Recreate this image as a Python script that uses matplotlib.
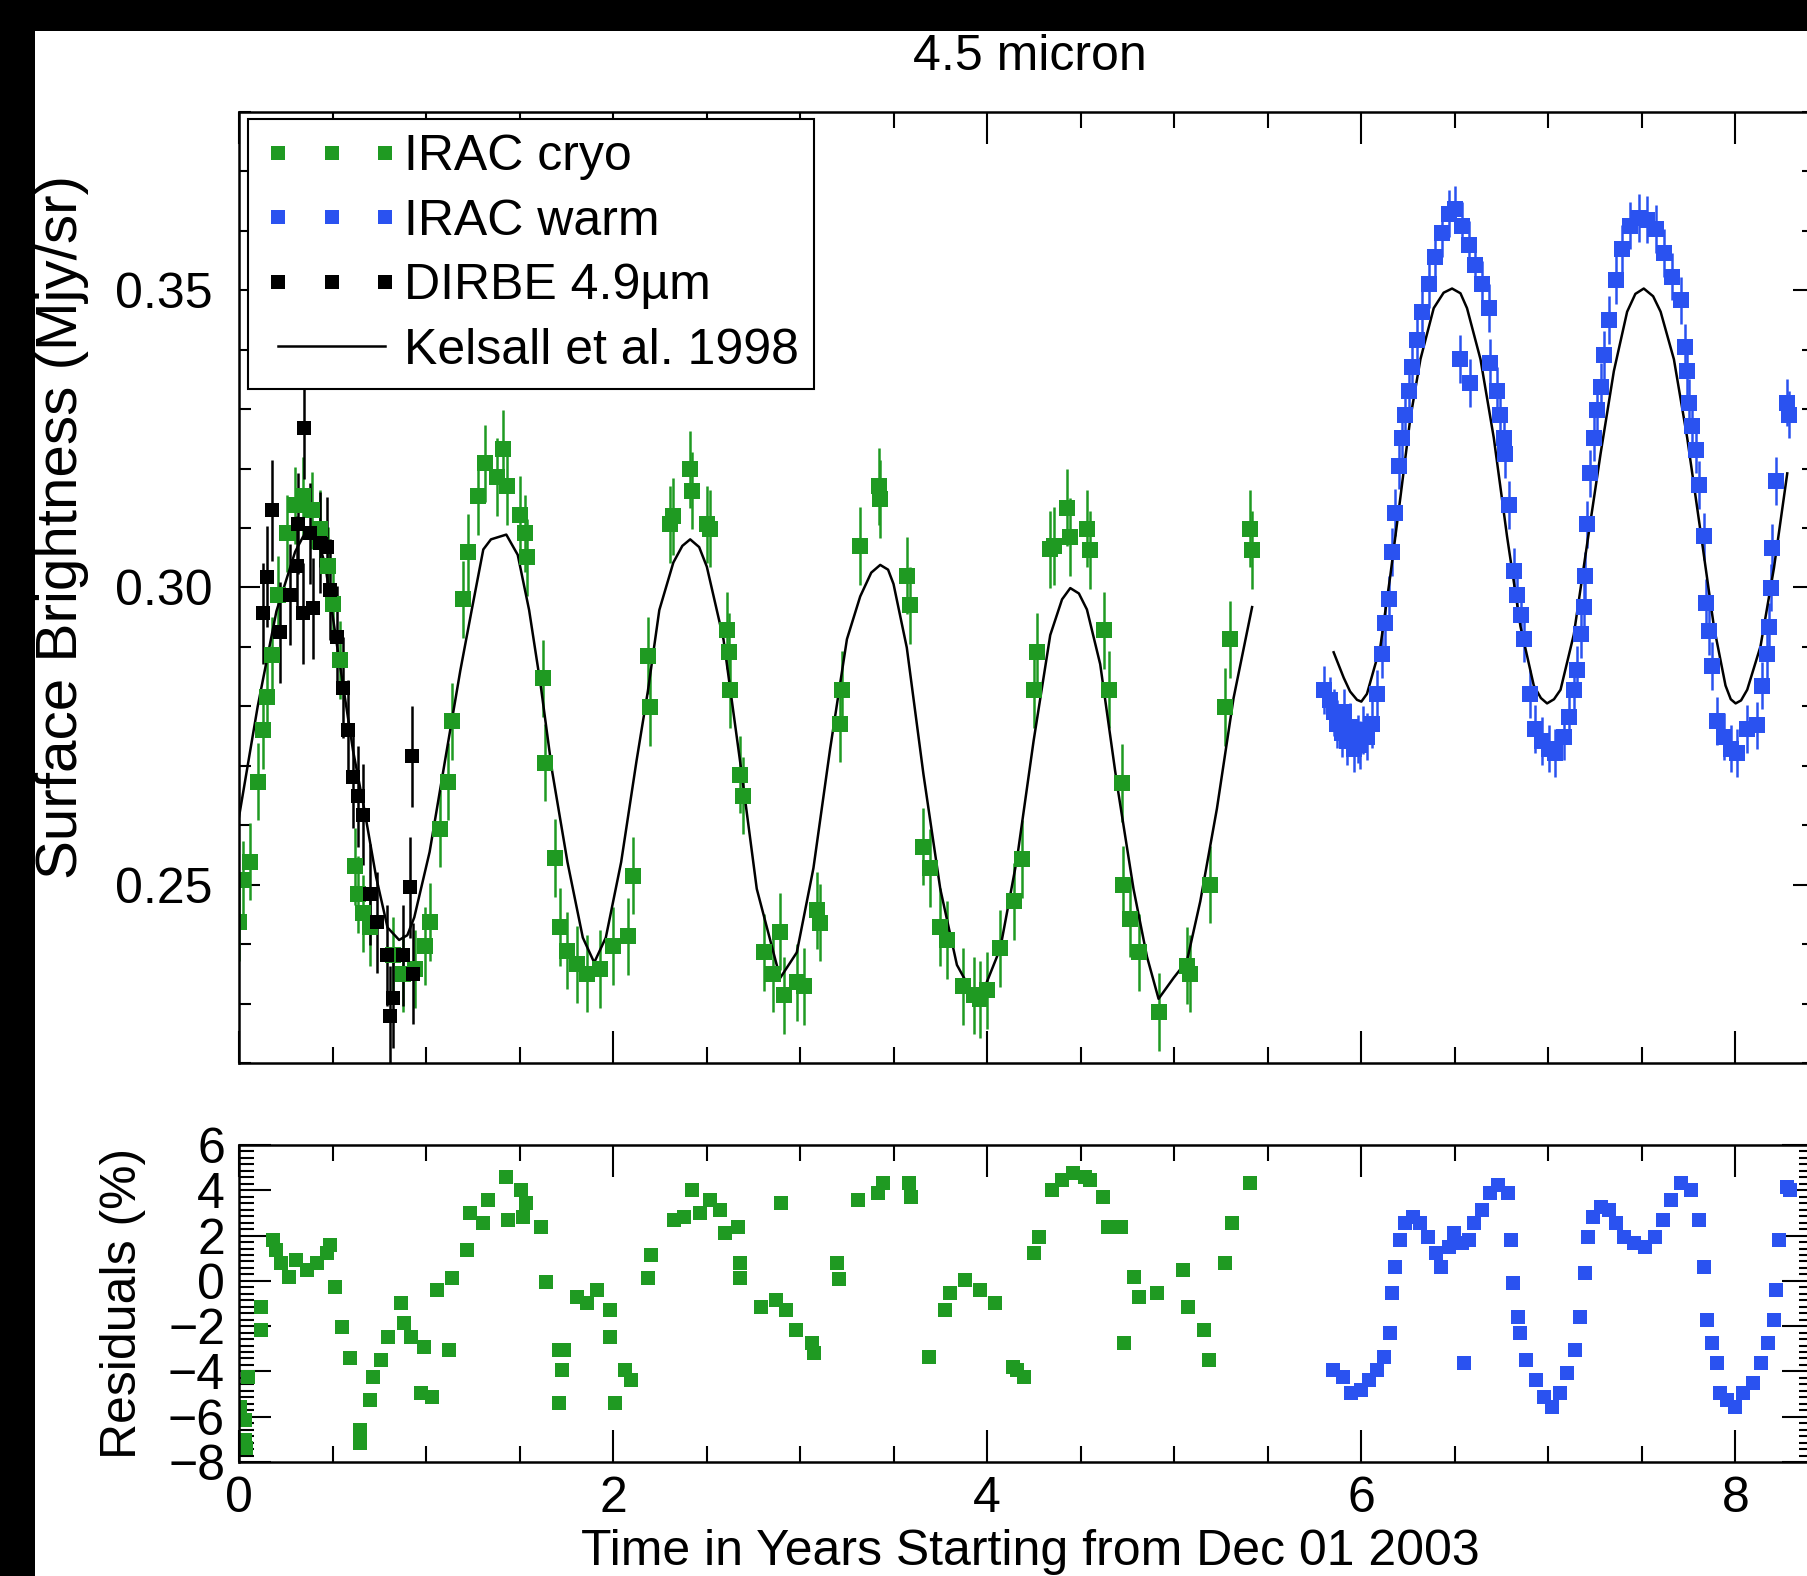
import matplotlib
matplotlib.use('Agg')
import matplotlib.pyplot as plt
from matplotlib.lines import Line2D
from matplotlib.patches import Rectangle
from matplotlib.ticker import MultipleLocator, FormatStrFormatter

plt.rcParams['font.family'] = ['Liberation Sans', 'DejaVu Sans']
plt.rcParams['font.size'] = 36

# ---- data ----
# IRAC cryo (green)
cryo_t = [0.000, 0.023, 0.059, 0.103, 0.130, 0.148, 0.175, 0.210, 0.255, 0.300,
          0.344, 0.389, 0.433, 0.478, 0.504, 0.540, 0.620, 0.638, 0.665, 0.700,
          0.825, 0.879, 0.941, 0.995, 1.021, 1.075, 1.119, 1.137, 1.200, 1.226,
          1.280, 1.316, 1.378, 1.413, 1.431, 1.503, 1.529, 1.538, 1.627, 1.636,
          1.690, 1.717, 1.752, 1.806, 1.860, 1.930, 2.002, 2.082, 2.109, 2.189,
          2.198, 2.305, 2.322, 2.412, 2.420, 2.501, 2.519, 2.608, 2.617, 2.626,
          2.679, 2.697, 2.804, 2.857, 2.893, 2.911, 2.982, 3.018, 3.089, 3.107,
          3.214, 3.223, 3.321, 3.419, 3.428, 3.570, 3.588, 3.659, 3.695, 3.749,
          3.784, 3.873, 3.927, 3.963, 3.998, 4.070, 4.141, 4.185, 4.248, 4.266,
          4.337, 4.355, 4.426, 4.444, 4.533, 4.551, 4.622, 4.649, 4.720, 4.725,
          4.765, 4.809, 4.916, 5.068, 5.086, 5.193, 5.273, 5.299, 5.406, 5.415]
cryo_v = [0.2437, 0.2508, 0.2539, 0.2673, 0.2760, 0.2815, 0.2886, 0.2988, 0.3091, 0.3138,
          0.3154, 0.3130, 0.3099, 0.3036, 0.2973, 0.2878, 0.2531, 0.2484, 0.2452, 0.2429,
          0.2381, 0.2350, 0.2358, 0.2397, 0.2437, 0.2594, 0.2673, 0.2775, 0.2980, 0.3059,
          0.3154, 0.3209, 0.3186, 0.3233, 0.3170, 0.3122, 0.3091, 0.3051, 0.2847, 0.2705,
          0.2545, 0.2429, 0.2389, 0.2366, 0.2350, 0.2358, 0.2397, 0.2413, 0.2515, 0.2885,
          0.2799, 0.3106, 0.3120, 0.3199, 0.3163, 0.3106, 0.3099, 0.2928, 0.2892, 0.2828,
          0.2685, 0.2650, 0.2386, 0.2350, 0.2421, 0.2314, 0.2336, 0.2329, 0.2457, 0.2436,
          0.2771, 0.2828, 0.3070, 0.3170, 0.3149, 0.3020, 0.2970, 0.2564, 0.2528, 0.2429,
          0.2407, 0.2329, 0.2314, 0.2307, 0.2322, 0.2393, 0.2472, 0.2543, 0.2828, 0.2892,
          0.3064, 0.3070, 0.3134, 0.3085, 0.3099, 0.3063, 0.2928, 0.2828, 0.2671, 0.2500,
          0.2443, 0.2386, 0.2286, 0.2364, 0.2350, 0.2500, 0.2799, 0.2913, 0.3099, 0.3063]
cryo_err = 0.0065

# IRAC warm (blue)
warm_t = [5.800, 5.835, 5.852, 5.870, 5.897, 5.910, 5.924, 5.940, 5.959, 5.980,
          5.995, 6.010, 6.030, 6.057, 6.084, 6.110, 6.129, 6.146, 6.164, 6.182,
          6.200, 6.218, 6.236, 6.253, 6.271, 6.298, 6.325, 6.360, 6.396, 6.432,
          6.467, 6.503, 6.530, 6.539, 6.574, 6.583, 6.610, 6.646, 6.681, 6.690,
          6.726, 6.744, 6.762, 6.770, 6.788, 6.815, 6.833, 6.851, 6.869, 6.904,
          6.931, 6.967, 7.002, 7.038, 7.083, 7.109, 7.136, 7.154, 7.172, 7.190,
          7.198, 7.207, 7.225, 7.243, 7.261, 7.279, 7.297, 7.323, 7.359, 7.395,
          7.439, 7.484, 7.528, 7.573, 7.617, 7.662, 7.707, 7.733, 7.742, 7.751,
          7.769, 7.787, 7.805, 7.831, 7.840, 7.858, 7.876, 7.903, 7.938, 7.974,
          8.010, 8.063, 8.117, 8.143, 8.170, 8.179, 8.188, 8.197, 8.215, 8.277,
          8.286]
warm_v = [0.2828, 0.2810, 0.2790, 0.2770, 0.2755, 0.2790, 0.2742, 0.2765, 0.2729, 0.2745,
          0.2735, 0.2760, 0.2749, 0.2770, 0.2821, 0.2888, 0.2941, 0.2980, 0.3060, 0.3126,
          0.3205, 0.3252, 0.3291, 0.3331, 0.3371, 0.3417, 0.3464, 0.3510, 0.3556, 0.3596,
          0.3629, 0.3636, 0.3384, 0.3609, 0.3576, 0.3344, 0.3543, 0.3510, 0.3470, 0.3378,
          0.3331, 0.3291, 0.3252, 0.3225, 0.3139, 0.3027, 0.2987, 0.2954, 0.2914, 0.2821,
          0.2762, 0.2742, 0.2729, 0.2722, 0.2749, 0.2782, 0.2828, 0.2861, 0.2921, 0.2967,
          0.3020, 0.3106, 0.3192, 0.3252, 0.3298, 0.3338, 0.3391, 0.3450, 0.3517, 0.3570,
          0.3609, 0.3622, 0.3619, 0.3603, 0.3563, 0.3523, 0.3483, 0.3404, 0.3364, 0.3311,
          0.3272, 0.3232, 0.3172, 0.3086, 0.2974, 0.2927, 0.2868, 0.2775, 0.2749, 0.2729,
          0.2722, 0.2762, 0.2768, 0.2835, 0.2888, 0.2934, 0.3000, 0.3066, 0.3179, 0.3311,
          0.3291]
warm_err = 0.004

# DIRBE 4.9 micron (black)
dirbe_t = [0.130, 0.148, 0.175, 0.219, 0.273, 0.309, 0.315, 0.345, 0.344, 0.380,
           0.397, 0.433, 0.469, 0.487, 0.522, 0.558, 0.585, 0.611, 0.638, 0.665,
           0.700, 0.736, 0.790, 0.807, 0.825, 0.879, 0.914, 0.923, 0.930]
dirbe_v = [0.2957, 0.3018, 0.3130, 0.2925, 0.2988, 0.3036, 0.3107, 0.3268, 0.2957, 0.3091,
           0.2965, 0.3075, 0.3068, 0.2996, 0.2917, 0.2831, 0.2760, 0.2681, 0.2649, 0.2618,
           0.2484, 0.2437, 0.2381, 0.2279, 0.2310, 0.2381, 0.2496, 0.2716, 0.2350]
dirbe_err = 0.0085

# Kelsall et al. 1998 model
model_cryo_t = [0.000, 0.100, 0.200, 0.300, 0.350, 0.400, 0.460, 0.528, 0.569, 0.610,
                0.672, 0.733, 0.794, 0.856, 0.900, 0.937, 1.019, 1.101, 1.183, 1.244,
                1.306, 1.347, 1.429, 1.490, 1.551, 1.613, 1.674, 1.756, 1.838, 1.899,
                1.961, 2.043, 2.125, 2.186, 2.247, 2.322, 2.370, 2.412, 2.460, 2.501,
                2.590, 2.679, 2.768, 2.893, 2.982, 3.071, 3.160, 3.250, 3.321, 3.380,
                3.428, 3.470, 3.499, 3.570, 3.659, 3.749, 3.838, 3.927, 3.980, 4.070,
                4.159, 4.248, 4.337, 4.400, 4.444, 4.490, 4.533, 4.604, 4.693, 4.782,
                4.854, 4.916, 4.996, 5.068, 5.139, 5.228, 5.317, 5.416]
model_cryo_v = [0.2614, 0.2800, 0.2960, 0.3060, 0.3090, 0.3100, 0.3040, 0.2894, 0.2809, 0.2725,
                0.2623, 0.2513, 0.2428, 0.2407, 0.2415, 0.2445, 0.2555, 0.2708, 0.2860, 0.2962,
                0.3064, 0.3081, 0.3089, 0.3055, 0.2962, 0.2835, 0.2691, 0.2538, 0.2411, 0.2369,
                0.2411, 0.2538, 0.2708, 0.2826, 0.2962, 0.3042, 0.3070, 0.3081, 0.3068, 0.3035,
                0.2913, 0.2707, 0.2493, 0.2343, 0.2386, 0.2528, 0.2728, 0.2913, 0.2985, 0.3025,
                0.3038, 0.3030, 0.3006, 0.2899, 0.2686, 0.2493, 0.2365, 0.2314, 0.2322, 0.2393,
                0.2543, 0.2742, 0.2920, 0.2980, 0.2999, 0.2990, 0.2963, 0.2871, 0.2671, 0.2493,
                0.2379, 0.2308, 0.2343, 0.2372, 0.2472, 0.2628, 0.2814, 0.2967]
model_warm_t = [5.852, 5.906, 5.940, 5.977, 6.000, 6.030, 6.102, 6.155, 6.209, 6.262,
                6.316, 6.387, 6.440, 6.485, 6.530, 6.565, 6.637, 6.708, 6.779, 6.851,
                6.922, 6.960, 6.993, 7.030, 7.065, 7.136, 7.207, 7.279, 7.350, 7.421,
                7.465, 7.510, 7.560, 7.600, 7.671, 7.742, 7.814, 7.885, 7.947, 7.975,
                8.001, 8.030, 8.063, 8.134, 8.206, 8.277]
model_warm_v = [0.2891, 0.2848, 0.2825, 0.2811, 0.2808, 0.2821, 0.2901, 0.3020, 0.3152, 0.3285,
                0.3384, 0.3470, 0.3496, 0.3503, 0.3495, 0.3470, 0.3384, 0.3252, 0.3086, 0.2934,
                0.2835, 0.2814, 0.2805, 0.2812, 0.2828, 0.2921, 0.3073, 0.3225, 0.3364, 0.3464,
                0.3494, 0.3503, 0.3490, 0.3464, 0.3384, 0.3252, 0.3093, 0.2934, 0.2835, 0.2812,
                0.2805, 0.2810, 0.2828, 0.2901, 0.3033, 0.3192]

# residuals (%)
res_cryo_t = [0.006, 0.034, 0.034, 0.040, 0.048, 0.116, 0.116, 0.183, 0.197, 0.224,
              0.266, 0.306, 0.361, 0.415, 0.470, 0.484, 0.511, 0.552, 0.593, 0.648,
              0.648, 0.702, 0.716, 0.757, 0.798, 0.866, 0.880, 0.920, 0.975, 0.989,
              1.030, 1.057, 1.125, 1.139, 1.220, 1.234, 1.303, 1.330, 1.425, 1.439,
              1.507, 1.520, 1.534, 1.616, 1.643, 1.712, 1.712, 1.725, 1.740, 1.807,
              1.862, 1.916, 1.984, 1.984, 2.012, 2.066, 2.094, 2.189, 2.203, 2.326,
              2.380, 2.421, 2.462, 2.517, 2.571, 2.598, 2.666, 2.680, 2.680, 2.789,
              2.871, 2.898, 2.926, 2.980, 3.062, 3.075, 3.198, 3.210, 3.308, 3.417,
              3.444, 3.581, 3.590, 3.690, 3.772, 3.799, 3.881, 3.963, 4.044, 4.140,
              4.160, 4.195, 4.249, 4.276, 4.345, 4.400, 4.456, 4.524, 4.552, 4.621,
              4.648, 4.717, 4.731, 4.786, 4.814, 4.910, 5.048, 5.075, 5.158, 5.186,
              5.269, 5.310, 5.406]
res_cryo = [-5.56, -6.14, -7.03, -7.40, -4.23, -1.14, -2.17, 1.80, 1.36, 0.78,
            0.18, 0.92, 0.48, 0.78, 1.22, 1.58, -0.26, -2.02, -3.42, -7.17,
            -6.58, -5.26, -4.23, -3.49, -2.46, -0.99, -1.87, -2.46, -4.96, -2.90,
            -5.11, -0.40, -3.05, 0.11, 1.36, 2.98, 2.54, 3.57, 4.60, 2.69,
            4.01, 2.83, 3.43, 2.39, -0.04, -3.05, -5.41, -3.94, -3.05, -0.70,
            -0.99, -0.40, -1.29, -2.46, -5.41, -3.94, -4.38, 0.11, 1.14, 2.69,
            2.83, 4.01, 2.98, 3.57, 3.13, 2.10, 2.39, 0.78, 0.11, -1.14,
            -0.84, 3.43, -1.29, -2.17, -2.76, -3.20, 0.78, 0.10, 3.57, 3.86,
            4.31, 4.31, 3.72, -3.35, -1.29, -0.55, 0.04, -0.40, -0.99, -3.79,
            -3.94, -4.23, 1.22, 1.95, 4.01, 4.45, 4.75, 4.60, 4.45, 3.72,
            2.39, 2.39, -2.76, 0.18, -0.70, -0.55, 0.48, -1.14, -2.17, -3.49,
            0.78, 2.54, 4.31]
res_warm_t = [5.848, 5.903, 5.944, 5.999, 6.040, 6.082, 6.123, 6.151, 6.165, 6.178,
              6.206, 6.233, 6.275, 6.316, 6.357, 6.399, 6.426, 6.468, 6.495, 6.536,
              6.550, 6.578, 6.605, 6.647, 6.688, 6.729, 6.784, 6.798, 6.812, 6.840,
              6.850, 6.881, 6.936, 6.977, 7.019, 7.060, 7.101, 7.143, 7.171, 7.198,
              7.212, 7.240, 7.281, 7.322, 7.364, 7.405, 7.460, 7.515, 7.570, 7.612,
              7.653, 7.708, 7.763, 7.805, 7.832, 7.846, 7.873, 7.901, 7.915, 7.956,
              7.997, 8.039, 8.094, 8.135, 8.176, 8.204, 8.218, 8.232, 8.273, 8.290]
res_warm = [-3.94, -4.23, -4.96, -4.82, -4.38, -3.94, -3.35, -2.32, -0.55, 0.63,
            1.80, 2.54, 2.83, 2.54, 1.95, 1.22, 0.63, 1.51, 2.10, 1.66,
            -3.64, 1.80, 2.54, 3.13, 3.86, 4.23, 3.86, 1.80, -0.11, -1.58,
            -2.32, -3.49, -4.38, -5.11, -5.56, -4.96, -4.08, -3.05, -1.58, 0.33,
            1.95, 2.83, 3.28, 3.13, 2.54, 1.95, 1.66, 1.51, 1.95, 2.69,
            3.57, 4.31, 4.01, 2.69, 0.63, -1.73, -2.76, -3.64, -4.96, -5.26,
            -5.56, -4.96, -4.52, -3.64, -2.76, -1.73, -0.40, 1.80, 4.16, 4.00]

green = '#1f9a22'
blue = '#2a52f0'

W, H = 1808, 1576
fig = plt.figure(figsize=(W / 100, H / 100), dpi=100, facecolor='black')
# white page inside the black screenshot border
fig.add_artist(Rectangle((35 / W, 0), 1, (H - 31) / H, transform=fig.transFigure,
                         facecolor='white', edgecolor='none', zorder=-10))

ax1 = fig.add_axes([239 / W, (H - 1063) / H, 1575 / W, 951 / H])
ax2 = fig.add_axes([239 / W, (H - 1462) / H, 1575 / W, 317 / H])

# top panel
ax1.errorbar(cryo_t, cryo_v, yerr=cryo_err, fmt='s', color=green, ms=11, mew=0,
             capsize=10, elinewidth=1.8, capthick=1.8)
ax1.errorbar(warm_t, warm_v, yerr=warm_err, fmt='s', color=blue, ms=11.5, mew=0,
             capsize=14, elinewidth=1.8, capthick=1.8)
ax1.errorbar(dirbe_t, dirbe_v, yerr=dirbe_err, fmt='s', color='black', ms=10, mew=0,
             capsize=12, elinewidth=1.8, capthick=1.8)
ax1.plot(model_cryo_t, model_cryo_v, color='black', lw=1.8)
ax1.plot(model_warm_t, model_warm_v, color='black', lw=1.8)

ax1.set_xlim(0, 8.42)
ax1.set_ylim(0.22, 0.38)
ax1.xaxis.set_major_locator(MultipleLocator(2))
ax1.xaxis.set_minor_locator(MultipleLocator(0.5))
ax1.yaxis.set_major_locator(MultipleLocator(0.05))
ax1.yaxis.set_minor_locator(MultipleLocator(0.01))
ax1.yaxis.set_major_formatter(FormatStrFormatter('%.2f'))
ax1.tick_params(which='both', direction='in', top=True, right=True, width=1.5,
                labelbottom=False)
ax1.tick_params(axis='x', which='major', length=23)
ax1.tick_params(axis='x', which='minor', length=11.5)
ax1.tick_params(axis='y', which='major', length=15, pad=19)
ax1.tick_params(axis='y', which='minor', length=8.5)

handles = [Line2D([], [], marker='s', ls='none', color=green, ms=10, mew=0),
           Line2D([], [], marker='s', ls='none', color=blue, ms=10, mew=0),
           Line2D([], [], marker='s', ls='none', color='black', ms=10, mew=0),
           Line2D([], [], color='black', lw=1.8)]
labels = ['IRAC cryo', 'IRAC warm', 'DIRBE 4.9\u00b5m', 'Kelsall et al. 1998']
leg = ax1.legend(handles, labels, loc='upper left', bbox_to_anchor=(0.0057, 0.9926),
                 numpoints=3, handlelength=2.75, handletextpad=0.08, borderpad=0.3,
                 labelspacing=0.37, borderaxespad=0, fancybox=False, framealpha=1,
                 edgecolor='black', fontsize=36)
leg.get_frame().set_linewidth(1.5)

# residual panel
ax2.plot(res_cryo_t, res_cryo, 's', color=green, ms=10.5, mew=0)
ax2.plot(res_warm_t, res_warm, 's', color=blue, ms=10.5, mew=0)
ax2.set_xlim(0, 8.42)
ax2.set_ylim(-8, 6)
ax2.xaxis.set_major_locator(MultipleLocator(2))
ax2.xaxis.set_minor_locator(MultipleLocator(0.5))
ax2.yaxis.set_major_locator(MultipleLocator(2))
ax2.yaxis.set_minor_locator(MultipleLocator(2 / 7))
ax2.tick_params(which='both', direction='in', top=True, right=True, width=1.5)
ax2.tick_params(axis='x', which='major', length=23, pad=10)
ax2.tick_params(axis='x', which='minor', length=11.5)
ax2.tick_params(axis='y', which='major', length=23, pad=10)
ax2.tick_params(axis='y', which='minor', length=11)

for ax in (ax1, ax2):
    for sp in ax.spines.values():
        sp.set_linewidth(1.8)

fig.text(1030 / W, 1 - 57 / H, '4.5 micron', ha='center', va='center')
fig.text(1030 / W, 1 - 1552 / H, 'Time in Years Starting from Dec 01 2003',
         ha='center', va='center')
fig.text(62 / W, 1 - 527 / H, 'Surface Brightness (Mjy/sr)', rotation=90,
         ha='center', va='center', fontsize=42)
fig.text(123 / W, 1 - 1303 / H, 'Residuals (%)', rotation=90,
         ha='center', va='center')

fig.savefig('out.png', dpi=100, facecolor=fig.get_facecolor())
